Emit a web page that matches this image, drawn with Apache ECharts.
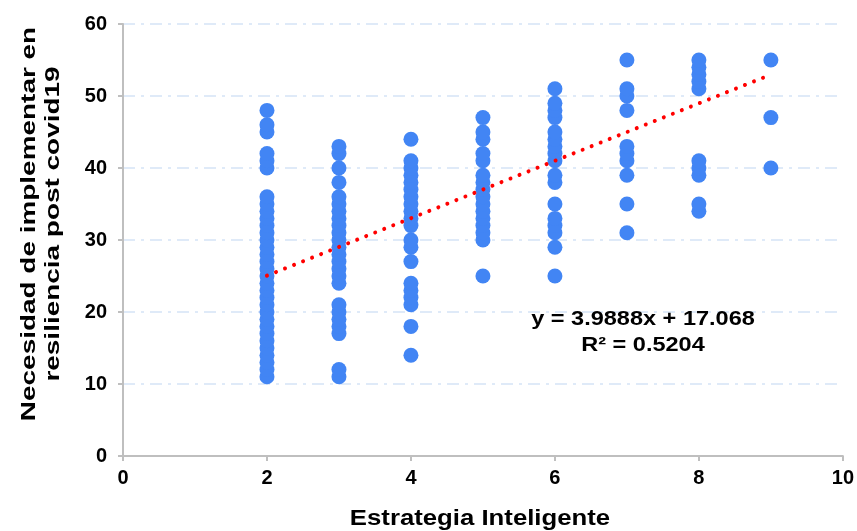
<!DOCTYPE html>
<html>
<head>
<meta charset="utf-8">
<script src="https://cdn.jsdelivr.net/npm/echarts@6/dist/echarts.min.js"></script>
<style>
  html, body { margin: 0; padding: 0; background: #fff; }
  #chart { width: 857px; height: 531px; }
</style>
</head>
<body>
<div id="chart"></div>
<script>
// Responses grouped by "Estrategia Inteligente" score
const strategyLevels = [2, 3, 4, 5, 6, 7, 8, 9];
const needAt2 = [11, 12, 13, 14, 15, 16, 17, 18, 19, 20, 21, 22, 23, 24, 25, 26, 27, 28, 29, 30, 31, 32, 33, 34, 35, 36, 40, 41, 42, 45, 46, 48];
const needAt3 = [11, 12, 17, 18, 19, 20, 21, 24, 25, 26, 27, 28, 29, 30, 31, 32, 33, 34, 35, 36, 38, 40, 42, 43];
const needAt4 = [14, 18, 21, 22, 23, 24, 27, 29, 30, 32, 33, 34, 35, 36, 37, 38, 39, 40, 41, 44];
const needAt5 = [25, 30, 31, 32, 33, 34, 35, 36, 37, 38, 39, 41, 42, 44, 45, 47];
const needAt6 = [25, 29, 31, 32, 33, 35, 38, 39, 41, 42, 43, 44, 45, 47, 48, 49, 51];
const needAt7 = [31, 35, 39, 41, 42, 43, 48, 50, 51, 55];
const needAt8 = [34, 35, 39, 40, 41, 51, 52, 53, 54, 55];
const needAt9 = [40, 47, 55];
const needByLevel = [needAt2, needAt3, needAt4, needAt5, needAt6, needAt7, needAt8, needAt9];

// Linear trend reported on the chart
const trendSlope = 3.9888;
const trendIntercept = 17.068;
const trendR2 = 0.5204;

const xTicks = [0, 2, 4, 6, 8, 10];
const yTicks = [0, 10, 20, 30, 40, 50, 60];

const xTitle = 'Estrategia Inteligente';
const yTitle = 'Necesidad de implementar en\nresiliencia post covid19';

const points = [];
strategyLevels.forEach((lvl, i) => {
  needByLevel[i].forEach(v => points.push([lvl, v]));
});

const xMin = Math.min(...strategyLevels);
const xMax = Math.max(...strategyLevels);
const trendPoints = [xMin, xMax].map(x => [x, trendSlope * x + trendIntercept]);

const FONT = '"Liberation Sans", Arial, sans-serif';

const chart = echarts.init(document.getElementById('chart'), null, { renderer: 'canvas' });
chart.setOption({
  animation: false,
  backgroundColor: '#ffffff',
  grid: { left: 123, right: 13, top: 24, bottom: 75, containLabel: false },
  xAxis: {
    type: 'value',
    min: xTicks[0],
    max: xTicks[xTicks.length - 1],
    interval: 2,
    axisLine: { show: true, lineStyle: { color: '#bfbfbf', width: 2 } },
    axisTick: { show: true, length: 5, lineStyle: { color: '#bfbfbf', width: 2 } },
    axisLabel: { fontFamily: FONT, fontWeight: 'bold', fontSize: 20, color: '#000', margin: 12 },
    splitLine: { show: false }
  },
  yAxis: {
    type: 'value',
    min: yTicks[0],
    max: yTicks[yTicks.length - 1],
    interval: 10,
    axisLine: { show: true, lineStyle: { color: '#bfbfbf', width: 2 } },
    axisTick: { show: true, length: 5, lineStyle: { color: '#bfbfbf', width: 2 } },
    axisLabel: { fontFamily: FONT, fontWeight: 'bold', fontSize: 20, color: '#000', margin: 16 },
    splitLine: { show: true, lineStyle: { color: '#d5e3f6', width: 1.5, type: [12, 6, 3, 6] } }
  },
  series: [
    {
      type: 'scatter',
      data: points,
      symbol: 'circle',
      symbolSize: 15,
      itemStyle: { color: '#4285f4', opacity: 1 },
      z: 2
    },
    {
      type: 'line',
      data: trendPoints,
      showSymbol: false,
      lineStyle: { color: '#ff0000', width: 4, type: [0.01, 9.7], cap: 'round' },
      z: 3
    }
  ],
  graphic: [
    {
      // trend equation and fit quality
      type: 'text',
      x: 643,
      y: 332,
      scaleX: 1.12,
      style: {
        text: 'y = ' + trendSlope + 'x + ' + trendIntercept.toFixed(3) + '\nR² = ' + trendR2,
        font: 'bold 21px ' + FONT,
        fill: '#000',
        align: 'center',
        verticalAlign: 'middle',
        lineHeight: 26
      },
      z: 10
    },
    {
      // horizontal axis title
      type: 'text',
      x: 480,
      y: 519,
      scaleX: 1.17,
      style: {
        text: xTitle,
        font: 'bold 22px ' + FONT,
        fill: '#000',
        align: 'center',
        verticalAlign: 'middle'
      }
    },
    {
      // vertical axis title
      type: 'text',
      x: 41,
      y: 224,
      rotation: Math.PI / 2,
      scaleX: 1.33,
      style: {
        text: yTitle,
        font: 'bold 21px ' + FONT,
        fill: '#000',
        align: 'center',
        verticalAlign: 'middle',
        lineHeight: 24
      }
    }
  ]
});
</script>
</body>
</html>
